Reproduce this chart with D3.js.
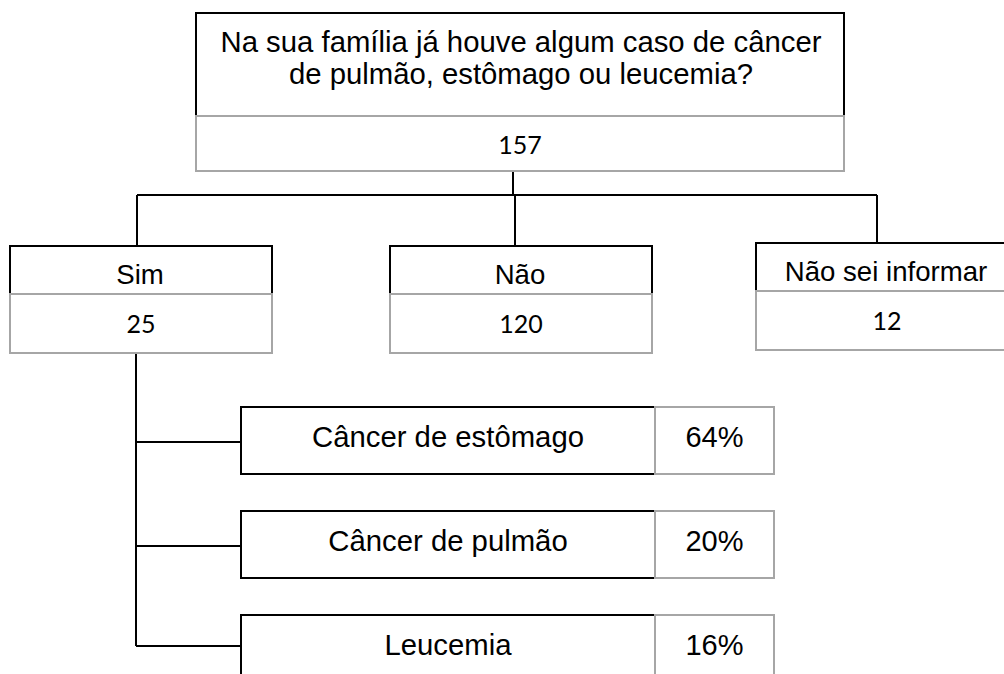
<!DOCTYPE html>
<html>
<head>
<meta charset="utf-8">
<script src="https://cdn.jsdelivr.net/npm/d3@7"></script>
<style>
    body { margin: 0; background: #fff; }
    .label { font-family: "Liberation Sans", Arial, sans-serif; font-size: 28px; fill: #000; }
    .value { font-family: Lato, "Open Sans", sans-serif; font-size: 25px; fill: #000; }
    .link { stroke: #000; stroke-width: 2; fill: none; }
</style>
</head>
<body>
<svg id="svgchart"></svg>
<script>
'use strict'

const questionLines = ['Na sua família já houve algum caso de câncer', 'de pulmão, estômago ou leucemia?']
const totalAnswers = 157
const answers = ['Sim', 'Não', 'Não sei informar']
const answerCounts = [25, 120, 12]
const cancerTypes = ['Câncer de estômago', 'Câncer de pulmão', 'Leucemia']
const cancerPercents = [64, 20, 16]

const width = 1004, height = 674
const black = '#000', gray = '#a6a6a6'

const svg = d3.select('#svgchart')
    .attr('width', width)
    .attr('height', height)

// layout scales
const answerX = d3.scaleOrdinal().domain(answers).range([10, 390, 756])
const answerTop = d3.scaleOrdinal().domain(answers).range([246, 246, 243])
const answerLink = d3.scaleOrdinal().domain(answers).range([137, 515, 877])
const answerW = 262, answerLabelH = 48, answerValueH = 59
const typeY = d3.scalePoint().domain(cancerTypes).range([407, 615])
const typeX = 241, typeW = 414, pctW = 119, typeH = 67

const root = { x: 196, y: 13, w: 648, labelH: 103, valueH: 55 }
const rootCx = root.x + root.w / 2

// connectors
const links = svg.append('g')
const busY = 195
links.append('line').classed('link', true)
    .attr('x1', 513).attr('x2', 513)
    .attr('y1', root.y + root.labelH + root.valueH).attr('y2', busY)
links.append('line').classed('link', true)
    .attr('x1', answerLink(answers[0])).attr('x2', answerLink(answers[2]))
    .attr('y1', busY).attr('y2', busY)
links.selectAll('.drop')
    .data(answers)
    .enter().append('line')
    .classed('link', true)
    .attr('x1', d => answerLink(d)).attr('x2', d => answerLink(d))
    .attr('y1', busY).attr('y2', d => answerTop(d))

const simBottom = answerTop('Sim') + answerLabelH + answerValueH
const lastType = cancerTypes[cancerTypes.length - 1]
links.append('line').classed('link', true)
    .attr('x1', 136).attr('x2', 136)
    .attr('y1', simBottom).attr('y2', typeY(lastType) + 31)
links.selectAll('.branch')
    .data(cancerTypes)
    .enter().append('line')
    .classed('link', true)
    .attr('x1', 136).attr('x2', typeX)
    .attr('y1', (d, i) => typeY(d) + (i === cancerTypes.length - 1 ? 31 : 35))
    .attr('y2', (d, i) => typeY(d) + (i === cancerTypes.length - 1 ? 31 : 35))

// root box
svg.append('rect')
    .attr('x', root.x).attr('y', root.y)
    .attr('width', root.w).attr('height', root.labelH)
    .attr('fill', '#fff').attr('stroke', black).attr('stroke-width', 2)
svg.append('rect')
    .attr('x', root.x).attr('y', root.y + root.labelH)
    .attr('width', root.w).attr('height', root.valueH)
    .attr('fill', '#fff').attr('stroke', gray).attr('stroke-width', 2)
svg.selectAll('.question')
    .data(questionLines)
    .enter().append('text')
    .classed('label', true)
    .style('font-size', '29.3px')
    .attr('x', rootCx + 1)
    .attr('y', (d, i) => 52 + i * 32)
    .attr('text-anchor', 'middle')
    .text(d => d)
svg.append('text')
    .classed('value', true)
    .attr('x', rootCx)
    .attr('y', 154)
    .attr('text-anchor', 'middle')
    .text(totalAnswers)

// answer boxes
const answerNode = svg.selectAll('.answer')
    .data(answers)
    .enter().append('g')
    .classed('answer', true)
    .attr('transform', d => 'translate(' + answerX(d) + ',' + answerTop(d) + ')')
answerNode.append('rect')
    .attr('width', answerW).attr('height', answerLabelH)
    .attr('fill', '#fff').attr('stroke', black).attr('stroke-width', 2)
answerNode.append('rect')
    .attr('y', answerLabelH)
    .attr('width', answerW).attr('height', answerValueH)
    .attr('fill', '#fff').attr('stroke', gray).attr('stroke-width', 2)
answerNode.append('text')
    .classed('label', true)
    .style('font-size', '27.6px')
    .attr('x', answerW / 2 - 1)
    .attr('y', 38)
    .attr('text-anchor', 'middle')
    .text(d => d)
answerNode.append('text')
    .classed('value', true)
    .attr('x', answerW / 2)
    .attr('y', 87)
    .attr('text-anchor', 'middle')
    .text((d, i) => answerCounts[i])

// cancer type boxes
const typeNode = svg.selectAll('.ctype')
    .data(cancerTypes)
    .enter().append('g')
    .classed('ctype', true)
    .attr('transform', d => 'translate(' + typeX + ',' + typeY(d) + ')')
typeNode.append('rect')
    .attr('width', typeW).attr('height', typeH)
    .attr('fill', '#fff').attr('stroke', black).attr('stroke-width', 2)
typeNode.append('rect')
    .attr('x', typeW)
    .attr('width', pctW).attr('height', typeH)
    .attr('fill', '#fff').attr('stroke', gray).attr('stroke-width', 2)
typeNode.append('text')
    .classed('label', true)
    .style('font-size', '29.3px')
    .attr('x', typeW / 2)
    .attr('y', 40)
    .attr('text-anchor', 'middle')
    .text(d => d)
typeNode.append('text')
    .classed('label', true)
    .style('font-size', '29px')
    .attr('x', typeW + pctW / 2)
    .attr('y', 40)
    .attr('text-anchor', 'middle')
    .text((d, i) => cancerPercents[i] + '%')
</script>
</body>
</html>
